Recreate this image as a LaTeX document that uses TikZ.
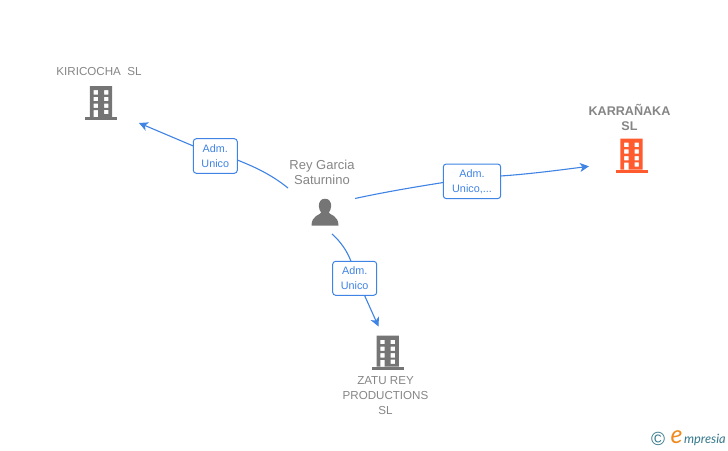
\documentclass[tikz,border=0pt]{standalone}
\usepackage{fontspec}
\setmainfont{Liberation Sans}
\newfontfamily\logofont{Lato Italic}
\usetikzlibrary{arrows.meta}
\definecolor{iconGray}{HTML}{757575}
\definecolor{txtGray}{HTML}{858585}
\definecolor{linkBlue}{HTML}{3F83E4}
\definecolor{hotOrange}{HTML}{FF5B2E}
\definecolor{logoTeal}{HTML}{35788C}
\definecolor{logoOrange}{HTML}{F08A1E}
\tikzset{
  x=1pt,y=-1pt,
  every node/.style={inner sep=0pt,outer sep=0pt},
  iconbox/.style={minimum width=32pt,minimum height=34pt},
  name text/.style={text=txtGray,align=center,font=\fontsize{11.6}{15}\selectfont},
  role box/.style={draw=linkBlue,fill=white,line width=1pt,rounded corners=3pt,
    text=linkBlue,align=center,font=\fontsize{10.8}{15}\selectfont},
  link/.style={draw=linkBlue,line width=1.1pt},
  arrowed/.style={link,-{Stealth[length=9pt,width=9pt,inset=2.5pt]}},
  pics/bldg/.style={code={
    \fill[#1,even odd rule]
      (-11.2,-17) rectangle (11.2,14)
      (-7.3,-12.9) rectangle (-3,-8.5) (3,-12.9) rectangle (7.3,-8.5)
      (-7.3,-6.2) rectangle (-3,-1.8) (3,-6.2) rectangle (7.3,-1.8)
      (-7.3,0.5) rectangle (-3,4.9) (3,0.5) rectangle (7.3,4.9)
      (-7.3,7.2) rectangle (-3,14) (3,6.8) rectangle (7.3,11.2);
    \fill[#1] (-16,14) rectangle (16,17);
  }},
  pics/person/.style={code={
    \fill[#1] (0,-13.8) .. controls (4.2,-13.8) and (6.2,-10.5) .. (6.2,-6.5)
      .. controls (6.2,-3.5) and (4.8,-1.3) .. (3.8,0)
      .. controls (4.5,2.5) and (13.5,2.5) .. (13.5,13.2)
      -- (-13.5,13.2)
      .. controls (-13.5,2.5) and (-4.5,2.5) .. (-3.8,0)
      .. controls (-4.8,-1.3) and (-6.2,-3.5) .. (-6.2,-6.5)
      .. controls (-6.2,-10.5) and (-4.2,-13.8) .. (0,-13.8) -- cycle;
  }}
}
\begin{document}
\begin{tikzpicture}
\useasboundingbox (0,0) rectangle (728,450);

% icons
\node[iconbox] (kiri) at (101,103) {};
\pic at (kiri) {bldg=iconGray};
\node[iconbox] (karr) at (631.5,155.5) {};
\pic at (karr) {bldg=hotOrange};
\node[iconbox] (zatu) at (387.7,352.7) {};
\pic at (zatu) {bldg=iconGray};
\node[minimum width=28pt,minimum height=28pt] (rey) at (325,212.5) {};
\pic at (rey) {person=iconGray};

% names
\node[name text] (tkiri) at (99,72) {KIRICOCHA\ \ SL};
\node[name text,font=\bfseries\fontsize{12.6}{15}\selectfont] (tkarr) at (629.5,117.5) {KARRAÑAKA\\SL};
\node[name text,font=\fontsize{13}{15}\selectfont] (trey) at (322,172.5) {Rey Garcia\\Saturnino};
\node[name text] (tzatu) at (385.5,396) {ZATU REY\\PRODUCTIONS\\SL};

% role boxes
\node[role box,minimum width=44pt,minimum height=34.6pt] (r1) at (215.3,156) {Adm.\\Unico};
\node[role box,minimum width=57.4pt,minimum height=34.6pt] (r2) at (472,181.3) {Adm.\\Unico,...};
\node[role box,minimum width=44pt,minimum height=34pt] (r3) at (354.7,278.3) {Adm.\\Unico};

% free ends
\coordinate (s1) at (288,188);
\coordinate (s2) at (355,198.5);
\coordinate (s3) at (332,234);
\coordinate (e1) at (139,123);
\coordinate (e2) at (589,166.3);
\coordinate (e3) at (378.5,326.5);

% connectors
\path[link] (s1) .. controls (272,175) and (255,167) .. (r1.east |- 0,160);
\path[arrowed] (r1.west |- 0,146) -- (e1);
\path[link] (s2) .. controls (385,192) and (415,187) .. (r2.west |- 0,182.5);
\path[arrowed] (r2.east |- 0,176) .. controls (530,174) and (560,170) .. (e2);
\path[link] (s3) .. controls (341,242) and (347,251) .. (r3.north -| 351,0);
\path[arrowed] (r3.south -| 364.5,0) -- (e3);

% logo
\node[text=logoTeal,font=\fontsize{19}{19}\selectfont] (copy) at (658,438.5) {©};
\node[anchor=base west,text=logoOrange,font=\logofont\fontsize{25}{25}\selectfont] (loge) at (670.5,443) {e};
\node[anchor=base west,text=logoTeal,font=\logofont\fontsize{12.8}{14}\selectfont] (logt) at (684,443) {mpresia};
\end{tikzpicture}
\end{document}
